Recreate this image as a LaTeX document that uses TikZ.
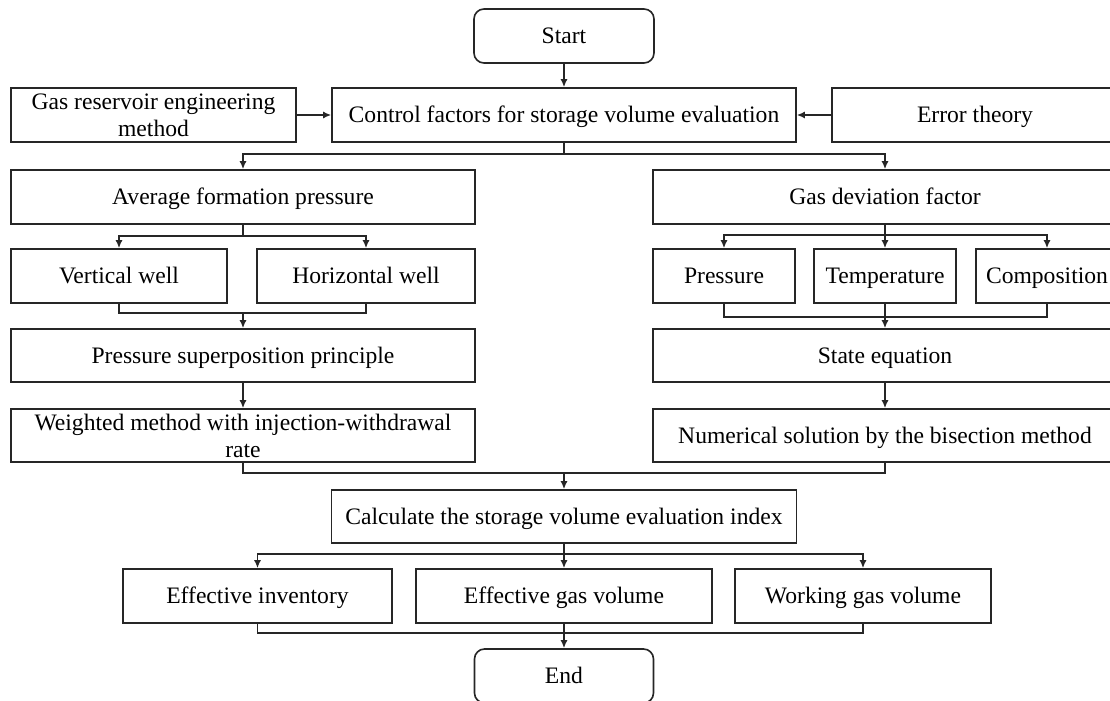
\documentclass[tikz,border=0pt]{standalone}
\usepackage{fontspec}
\setmainfont{Liberation Serif}
\usepackage{tikz}
\usetikzlibrary{arrows.meta}

\tikzset{
  proc2/.style={draw=black!85, line width=0.8pt, rectangle, minimum height=27pt, inner xsep=2pt, inner ysep=0pt, align=center, font=\fontsize{11.8}{13.5}\selectfont},
  proc/.style={proc2, text height=9pt, text depth=1.2pt},
  term/.style={proc, rounded corners=5pt},
  arr/.style={-{Latex[length=4pt,width=3.5pt]}},
  lnk/.style={draw=black!85, line width=0.8pt}
}

\begin{document}
\begin{tikzpicture}[x=0.5pt, y=-0.5pt]
  \fill[white] (0,0) rectangle (1110,701);
  \useasboundingbox (0,0) rectangle (1110,701);

  % top
  \node[term, minimum width=90pt] (start) at (564,36) {Start} ; %
  \node[proc, minimum width=232pt] (ctrl) at (564,115) {Control factors for storage volume evaluation} ; %
  \node[proc2, minimum width=142.5pt] (gasres) at (153.5,115) {Gas reservoir engineering\\method} ; %
  \node[proc, minimum width=143pt] (err) at (975,115) {Error theory} ; %

  % left branch
  \node[proc, minimum width=232pt] (avgp) at (243,197) {Average formation pressure} ; %
  \node[proc, minimum width=108pt] (vert) at (119,276) {Vertical well} ; %
  \node[proc, minimum width=109pt] (horiz) at (366,276) {Horizontal well} ; %
  \node[proc, minimum width=232pt, minimum height=26.5pt] (superp) at (243,355.5) {Pressure superposition principle} ; %
  \node[proc2, minimum width=232pt, minimum height=26.5pt] (weighted) at (243,435.5) {Weighted method with injection-withdrawal\\rate} ; %

  % right branch
  \node[proc, minimum width=232pt] (gasdev) at (885,197) {Gas deviation factor} ; %
  \node[proc, minimum width=71pt] (press) at (724,276) {Pressure} ; %
  \node[proc, minimum width=71pt] (temp) at (885,276) {Temperature} ; %
  \node[proc, minimum width=71pt] (comp) at (1047,276) {Composition} ; %
  \node[proc, minimum width=232pt, minimum height=26.5pt] (state) at (885,355.5) {State equation} ; %
  \node[proc, minimum width=232pt, minimum height=26.5pt] (numer) at (885,435.5) {Numerical solution by the bisection method} ; %

  % bottom
  \node[proc, minimum width=232.5pt, minimum height=26.5pt] (calc) at (564,516.5) {Calculate the storage volume evaluation index} ; %
  \node[proc, minimum width=134.5pt] (effinv) at (257.5,596) {Effective inventory} ; %
  \node[proc, minimum width=148pt] (effgas) at (564,596) {Effective gas volume} ; %
  \node[proc, minimum width=128pt] (work) at (863,596) {Working gas volume} ; %
  \node[term, minimum width=89.5pt] (end) at (564,676) {End} ; %

  \coordinate (b1) at (564,154) ; %
  \coordinate (b2) at (885,235) ; %
  \coordinate (j1) at (243,313) ; %
  \coordinate (j2) at (885,317) ; %
  \coordinate (j3) at (564,473) ; %
  \coordinate (b3) at (564,554) ; %
  \coordinate (j4) at (564,633) ; %

  \draw[lnk, arr] (start) -- (ctrl) ; %
  \draw[lnk, arr] (gasres) -- (ctrl) ; %
  \draw[lnk, arr] (err) -- (ctrl) ; %
  \draw[lnk] (ctrl.south) -- (b1) ; %
  \draw[lnk, arr] (b1) -| (avgp.north) ; %
  \draw[lnk, arr] (b1) -| (gasdev.north) ; %

  \draw[lnk, arr] (avgp.south) -- ++(0,11) -| (vert.north) ; %
  \draw[lnk, arr] (avgp.south) -- ++(0,11) -| (horiz.north) ; %
  \draw[lnk] (vert.south) |- (j1) -| (horiz.south) ; %
  \draw[lnk, arr] (j1) -- (superp.north) ; %
  \draw[lnk, arr] (superp) -- (weighted) ; %

  \draw[lnk] (gasdev.south) -- (b2) ; %
  \draw[lnk, arr] (b2) -| (press.north) ; %
  \draw[lnk, arr] (b2) -- (temp.north) ; %
  \draw[lnk, arr] (b2) -| (comp.north) ; %
  \draw[lnk] (press.south) |- (j2) -| (comp.south) ; %
  \draw[lnk, arr] (temp.south) -- (state.north) ; %
  \draw[lnk, arr] (state) -- (numer) ; %

  \draw[lnk] (weighted.south) |- (j3) -| (numer.south) ; %
  \draw[lnk, arr] (j3) -- (calc.north) ; %
  \draw[lnk] (calc.south) -- (b3) ; %
  \draw[lnk, arr] (b3) -| (effinv.north) ; %
  \draw[lnk, arr] (b3) -- (effgas.north) ; %
  \draw[lnk, arr] (b3) -| (work.north) ; %
  \draw[lnk] (effinv.south) |- (j4) -| (work.south) ; %
  \draw[lnk, arr] (effgas.south) -- (end.north) ; %
\end{tikzpicture}
\end{document}
